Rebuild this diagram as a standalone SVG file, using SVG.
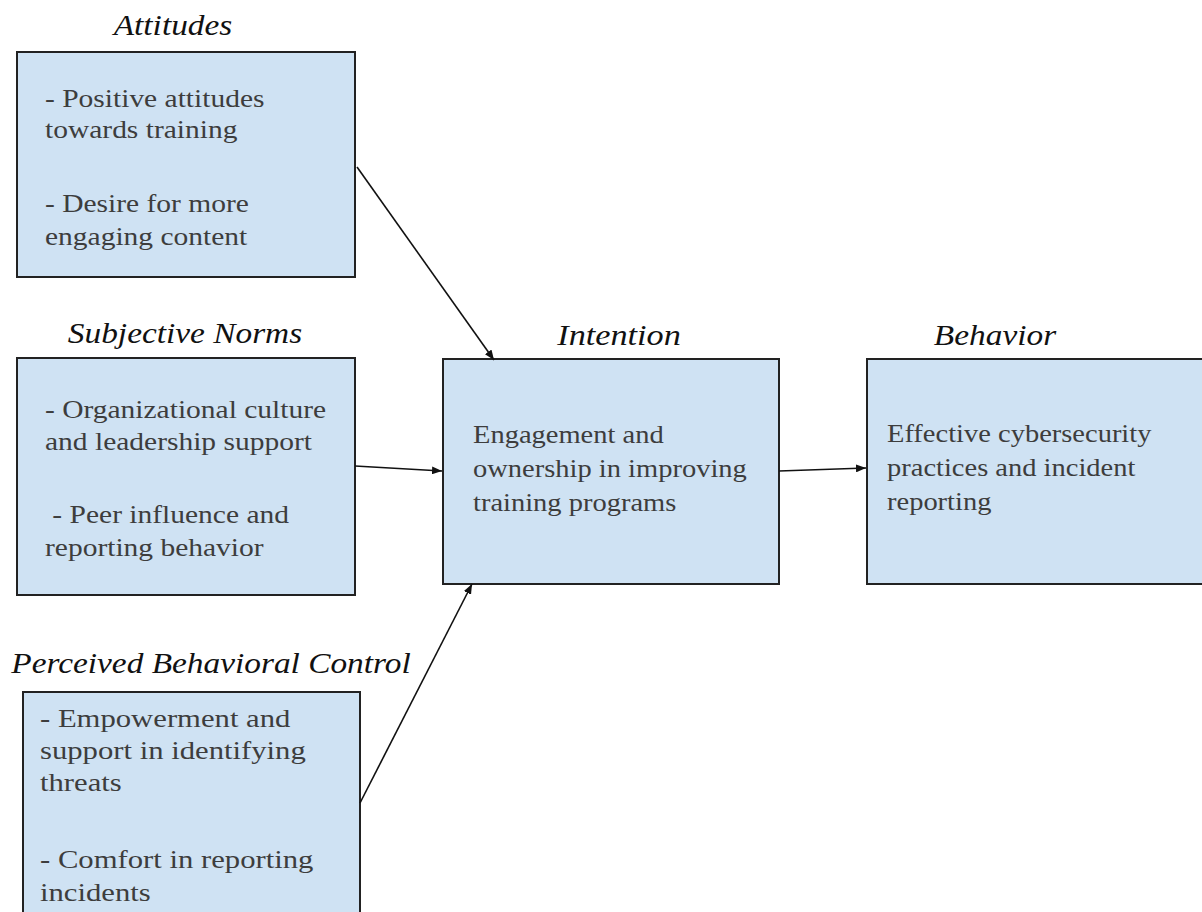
<svg xmlns="http://www.w3.org/2000/svg" width="1202" height="912" viewBox="0 0 1202 912">
<style>
.box{fill:#cfe2f3;stroke:#222;stroke-width:2}
.title{font-family:"Liberation Serif","Times New Roman",serif;font-style:italic;font-size:29px;fill:#111}
.body{font-family:"Liberation Serif","Times New Roman",serif;font-size:25px;fill:#3d3d3d}
.big{font-size:26px}
.conn{stroke:#111;stroke-width:1.6;fill:none}
</style>
<defs>
<marker id="ah" viewBox="0 0 10 8" refX="10" refY="4" markerWidth="10" markerHeight="8" markerUnits="userSpaceOnUse" orient="auto">
<path d="M0,0 L10,4 L0,8 z" fill="#111"/>
</marker>
</defs>
<rect width="1202" height="912" fill="#fff"/>
<g id="attitudes">
<rect class="box" x="17" y="52" width="338" height="225"/>
<text class="title" text-anchor="middle" transform="translate(173,35) scale(1.15,1)">Attitudes</text>
<text class="body" transform="translate(45,107) scale(1.18,1)"><tspan x="0" y="0">- Positive attitudes</tspan><tspan x="0" y="31">towards training</tspan><tspan x="0" y="105">- Desire for more</tspan><tspan x="0" y="138">engaging content</tspan></text>
</g>
<g id="subjective-norms">
<rect class="box" x="17" y="358" width="338" height="237"/>
<text class="title" text-anchor="middle" transform="translate(185,343) scale(1.15,1)">Subjective Norms</text>
<text class="body" transform="translate(45,418) scale(1.18,1)"><tspan x="0" y="0">- Organizational culture</tspan><tspan x="0" y="32">and leadership support</tspan><tspan x="0" y="105"> - Peer influence and</tspan><tspan x="0" y="138">reporting behavior</tspan></text>
</g>
<g id="intention">
<rect class="box" x="443" y="359" width="336" height="225"/>
<text class="title" text-anchor="middle" transform="translate(619,345) scale(1.18,1)">Intention</text>
<text class="body" transform="translate(473,443) scale(1.14,1)"><tspan x="0" y="0">Engagement and</tspan><tspan x="0" y="34">ownership in improving</tspan><tspan x="0" y="68">training programs</tspan></text>
</g>
<g id="behavior">
<rect class="box" x="867" y="359" width="345" height="225"/>
<text class="title" text-anchor="middle" transform="translate(995,345) scale(1.15,1)">Behavior</text>
<text class="body" transform="translate(887,442) scale(1.14,1)"><tspan x="0" y="0">Effective cybersecurity</tspan><tspan x="0" y="34">practices and incident</tspan><tspan x="0" y="68">reporting</tspan></text>
</g>
<g id="perceived-behavioral-control">
<rect class="box" x="23" y="692" width="337" height="240"/>
<text class="title" text-anchor="middle" transform="translate(211,673) scale(1.15,1)">Perceived Behavioral Control</text>
<text class="body big" transform="translate(40,727) scale(1.18,1)"><tspan x="0" y="0">- Empowerment and</tspan><tspan x="0" y="32">support in identifying</tspan><tspan x="0" y="64">threats</tspan><tspan x="0" y="141">- Comfort in reporting</tspan><tspan x="0" y="174">incidents</tspan></text>
</g>
<g id="connectors">
<line class="conn" x1="357" y1="167" x2="494" y2="360" marker-end="url(#ah)"/>
<line class="conn" x1="355" y1="466" x2="442" y2="471" marker-end="url(#ah)"/>
<line class="conn" x1="360" y1="803" x2="472" y2="584" marker-end="url(#ah)"/>
<line class="conn" x1="779" y1="471" x2="866" y2="468" marker-end="url(#ah)"/>
</g>
</svg>
